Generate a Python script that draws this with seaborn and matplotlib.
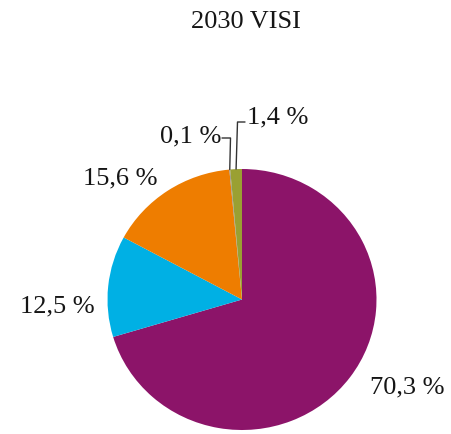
import matplotlib
matplotlib.use("Agg")
import matplotlib.pyplot as plt
import seaborn as sns
import numpy as np

# ---- data ----
title = "2030 VISI"
values = [70.3, 12.5, 15.6, 0.1, 1.4]
labels = ["70,3 %", "12,5 %", "15,6 %", "0,1 %", "1,4 %"]
colors = ["#8C1469", "#00B0E4", "#EE7D00", "#8C8C8C", "#9AA032"]

sns.set_theme(style="white")
plt.rcParams["font.family"] = ["Liberation Serif", "DejaVu Serif"]

W, H = 452, 434
fig = plt.figure(figsize=(W / 100, H / 100), dpi=100)
# pie region in pixels: x 107.5..376.5, y 169..430 (from top)
ax = fig.add_axes([107.5 / W, (H - 430) / H, 269 / W, 261 / H])

wedges, _ = ax.pie(values, colors=colors, startangle=90, counterclock=False,
                   radius=1, wedgeprops=dict(linewidth=0))
ax.set_aspect("auto")
ax.set_xlim(-1, 1)
ax.set_ylim(-1, 1)
ax.axis("off")

def px2d(px, py):
    return (px - 242) / 134.5, (299.5 - py) / 130.5

label_px = [(407.5, 387), (57.5, 306), (120, 178), (191, 136), (278, 117)]
for lab, (px, py) in zip(labels, label_px):
    x, y = px2d(px, py)
    ax.text(x, y, lab, ha="center", va="center", fontsize=19, color="#151515",
            clip_on=False)

# leader lines for the small slices
def mid_edge(w):
    a = np.deg2rad((w.theta1 + w.theta2) / 2)
    return np.cos(a), np.sin(a)

for idx, pts_px in [(3, [(222, 138), (230.5, 138)]), (4, [(245, 122), (237.5, 122)])]:
    pts = [px2d(*p) for p in pts_px] + [mid_edge(wedges[idx])]
    xs, ys = zip(*pts)
    ax.plot(xs, ys, color="#333333", lw=1.0, clip_on=False)

fig.text(246 / W, 1 - 22 / H, title, ha="center", va="center", fontsize=19,
         color="#151515")

fig.savefig("out.png", dpi=100)
